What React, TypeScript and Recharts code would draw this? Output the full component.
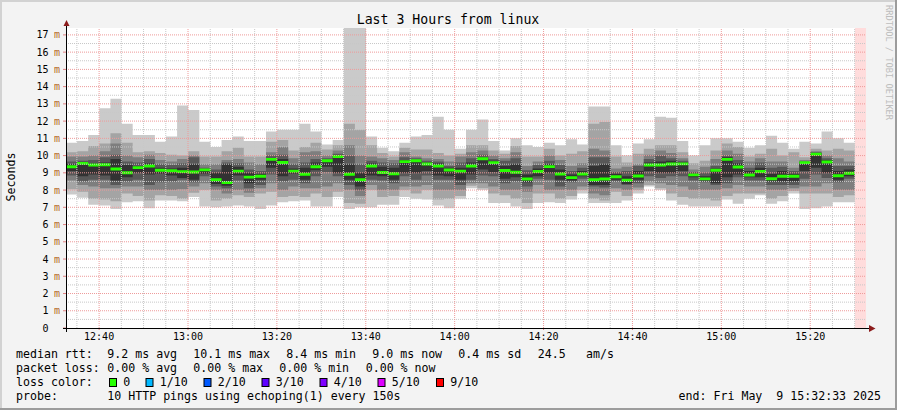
import React from "react";
import {
  ComposedChart, Area, XAxis, YAxis, CartesianGrid, ReferenceLine, ReferenceArea,
} from "recharts";

// time in minutes after midnight; one rrd step = 150 s
const STEP_START = 752.55; // 12:32:33
const STEP = 2.5;
const VIEW_END = 932.55; // 15:32:33

// 10 pings per step, sorted (ms)
const PING_MAX = [
  10.75, 10.85, 11.2, 12.75, 13.3, 11.85, 11.2, 11.2, 10.8, 11.1,
  12.9, 12.65, 10.8, 10.5, 10.9, 11.1, 10.85, 10.85, 11.4, 11.5,
  11.5, 11.85, 11.4, 10.65, 10.9, 17.4, 17.4, 11.1, 10.45, 10.25,
  10.75, 11.1, 11.2, 12.25, 11.5, 10.4, 11.5, 12.1, 10.85, 10.3,
  11.0, 10.6, 10.5, 10.75, 10.6, 10.95, 10.65, 12.85, 12.85, 10.6,
  10.0, 10.7, 10.95, 12.25, 12.2, 10.85, 10.0, 10.6, 11.0, 11.0,
  10.8, 10.45, 10.6, 11.15, 10.75, 10.4, 10.8, 10.7, 11.4, 11.0,
  10.75,
];
const PING_9 = [
  10.2, 10.25, 10.55, 10.7, 11.3, 10.75, 10.2, 10.25, 10.15, 10.05,
  10.0, 10.25, 9.95, 9.95, 10.25, 10.45, 9.95, 9.95, 10.8, 10.9,
  10.3, 10.5, 10.75, 10.35, 10.6, 11.85, 11.5, 10.6, 10.15, 9.95,
  10.45, 10.35, 10.35, 10.15, 10.0, 10.1, 10.6, 10.6, 10.3, 10.1,
  10.55, 9.95, 9.95, 10.4, 10.0, 10.1, 10.25, 11.85, 11.95, 9.95,
  9.6, 10.1, 10.4, 10.6, 10.6, 10.2, 9.55, 9.7, 10.3, 10.7,
  10.5, 9.95, 10.1, 10.4, 10.0, 10.2, 9.9, 10.4, 10.3, 10.4,
  10.3,
];
const PING_8 = [
  9.95, 9.95, 10.0, 10.25, 10.7, 10.0, 9.9, 10.05, 9.75, 9.65,
  9.8, 10.0, 9.5, 9.5, 9.75, 9.8, 9.6, 9.5, 10.2, 10.5,
  9.85, 10.2, 10.25, 10.0, 10.3, 10.6, 10.0, 9.95, 9.85, 9.75,
  10.2, 9.95, 9.85, 9.8, 9.65, 9.95, 10.2, 10.3, 10.0, 9.85,
  10.2, 9.4, 9.65, 10.0, 9.75, 9.4, 9.55, 10.4, 10.3, 9.25,
  9.35, 9.5, 10.05, 10.3, 10.15, 9.85, 9.2, 9.35, 9.8, 10.3,
  10.1, 9.65, 9.85, 9.65, 9.65, 9.3, 9.75, 10.25, 10.0, 9.85,
  9.65,
];
const PING_7 = [
  9.65, 9.7, 9.75, 9.9, 10.05, 9.65, 9.6, 9.8, 9.5, 9.45,
  9.55, 9.9, 9.3, 9.2, 9.6, 9.55, 9.2, 9.1, 10.0, 10.05,
  9.5, 9.6, 9.8, 9.85, 10.1, 10.0, 9.5, 9.7, 9.6, 9.55,
  9.9, 9.85, 9.7, 9.65, 9.4, 9.6, 9.85, 10.05, 9.8, 9.7,
  9.85, 9.15, 9.45, 9.7, 9.45, 9.1, 9.3, 9.9, 9.9, 9.05,
  9.1, 9.4, 9.8, 10.0, 9.85, 9.7, 9.05, 9.0, 9.4, 10.0,
  9.75, 9.3, 9.6, 9.3, 9.35, 9.1, 9.65, 10.2, 9.85, 9.4,
  9.4,
];
const PING_6 = [
  9.5, 9.6, 9.55, 9.6, 9.8, 9.45, 9.4, 9.55, 9.3, 9.25,
  9.3, 9.5, 9.2, 9.0, 9.5, 9.35, 9.0, 8.95, 9.85, 9.8,
  9.25, 9.3, 9.6, 9.75, 10.0, 9.5, 9.0, 9.55, 9.35, 9.3,
  9.75, 9.75, 9.6, 9.55, 9.3, 9.3, 9.6, 9.9, 9.7, 9.4,
  9.5, 8.9, 9.25, 9.5, 9.2, 8.9, 9.1, 9.4, 9.5, 8.95,
  8.8, 9.1, 9.6, 9.65, 9.7, 9.6, 8.95, 8.8, 9.25, 9.9,
  9.55, 9.1, 9.3, 8.95, 9.1, 8.95, 9.6, 10.15, 9.75, 9.1,
  9.2,
];
const MEDIAN = [
  9.35, 9.55, 9.45, 9.47, 9.22, 9.0, 9.3, 9.4, 9.15, 9.12,
  9.07, 9.05, 9.17, 8.6, 8.43, 9.1, 8.75, 8.8, 9.78, 9.6,
  9.1, 8.92, 9.35, 9.7, 9.95, 8.92, 8.6, 9.4, 9.02, 8.95,
  9.65, 9.7, 9.51, 9.4, 9.16, 9.1, 9.4, 9.82, 9.59, 9.13,
  9.03, 8.64, 9.08, 9.36, 8.93, 8.72, 8.93, 8.6, 8.64, 8.77,
  8.57, 8.82, 9.45, 9.45, 9.51, 9.52, 8.88, 8.65, 9.15, 9.78,
  9.34, 8.87, 9.08, 8.66, 8.8, 8.8, 9.59, 10.08, 9.63, 8.83,
  8.98,
];
const PING_5 = [
  9.1, 8.8, 8.9, 8.85, 8.55, 8.75, 9.0, 8.9, 8.95, 8.85,
  8.7, 8.6, 8.95, 8.35, 8.25, 8.85, 8.4, 8.6, 9.3, 8.8,
  8.95, 8.6, 9.15, 9.35, 9.0, 8.6, 8.2, 8.85, 8.8, 8.6,
  9.0, 9.0, 9.1, 8.85, 8.8, 8.6, 8.9, 9.2, 9.05, 8.65,
  8.75, 8.45, 8.8, 9.0, 8.6, 8.55, 8.8, 8.3, 8.3, 8.6,
  8.35, 8.6, 9.1, 9.0, 9.0, 9.1, 8.75, 8.55, 8.4, 8.75,
  8.9, 8.75, 8.75, 8.5, 8.5, 8.5, 9.1, 9.3, 9.0, 8.6,
  8.8,
];
const PING_4 = [
  8.85, 8.5, 8.6, 8.6, 8.3, 8.5, 8.6, 8.3, 8.45, 8.5,
  8.6, 8.45, 8.8, 8.2, 8.1, 8.55, 8.1, 8.3, 8.9, 8.5,
  8.6, 8.4, 8.8, 9.05, 8.8, 8.3, 8.0, 8.6, 8.55, 8.4,
  8.8, 8.6, 8.85, 8.6, 8.6, 8.3, 8.6, 8.85, 8.8, 8.4,
  8.5, 8.2, 8.65, 8.6, 8.2, 8.45, 8.65, 8.2, 8.15, 8.5,
  8.3, 8.4, 8.8, 8.7, 8.8, 8.8, 8.55, 8.45, 8.3, 8.4,
  8.75, 8.55, 8.55, 8.3, 8.3, 8.3, 8.65, 8.9, 8.7, 8.45,
  8.65,
];
const PING_3 = [
  8.55, 8.3, 8.2, 8.1, 8.1, 8.2, 8.2, 8.0, 8.0, 8.0,
  8.05, 8.2, 8.4, 8.0, 7.8, 8.0, 7.85, 8.1, 8.4, 8.0,
  8.2, 8.1, 8.1, 8.2, 8.4, 8.0, 7.65, 8.3, 8.0, 8.0,
  8.2, 8.2, 8.3, 8.0, 8.0, 8.0, 8.4, 8.4, 8.2, 8.0,
  8.0, 7.9, 8.3, 8.0, 8.0, 8.0, 8.2, 7.8, 7.7, 8.1,
  8.0, 8.15, 8.5, 8.4, 8.3, 8.2, 8.0, 8.0, 8.0, 8.1,
  8.3, 8.2, 8.2, 8.0, 8.0, 8.1, 8.2, 8.2, 8.4, 8.0,
  8.0,
];
const PING_2 = [
  8.05, 7.9, 7.5, 7.45, 7.35, 7.8, 7.65, 7.4, 7.7, 7.65,
  7.5, 7.85, 8.0, 7.4, 7.5, 7.7, 7.6, 7.8, 7.9, 7.6,
  7.65, 7.6, 7.8, 7.6, 7.9, 7.25, 7.2, 8.0, 7.6, 7.65,
  8.0, 7.8, 8.0, 7.45, 7.5, 7.65, 8.25, 8.1, 7.8, 7.7,
  7.5, 7.25, 7.8, 7.8, 7.5, 7.65, 8.0, 7.5, 7.4, 7.9,
  7.65, 8.0, 8.3, 8.1, 7.8, 7.6, 7.5, 7.5, 7.4, 7.65,
  7.8, 7.8, 7.8, 7.5, 7.65, 7.95, 7.8, 7.8, 7.8, 7.6,
  7.7,
];
const PING_MIN = [
  7.75, 7.55, 7.15, 7.1, 6.9, 7.3, 7.35, 6.95, 7.4, 7.4,
  7.35, 7.6, 7.05, 7.0, 7.05, 7.1, 7.05, 6.9, 7.1, 7.3,
  7.35, 7.4, 7.05, 7.05, 7.6, 6.9, 7.0, 7.0, 7.15, 7.15,
  7.6, 7.5, 7.45, 7.1, 6.95, 7.5, 8.1, 8.0, 7.25, 7.25,
  7.05, 6.9, 7.25, 7.3, 7.25, 7.45, 7.8, 7.25, 7.25, 7.25,
  7.4, 7.8, 8.2, 8.0, 7.4, 7.15, 7.05, 7.05, 7.05, 7.45,
  7.2, 7.5, 7.7, 7.2, 7.35, 7.8, 6.9, 6.95, 7.05, 7.3,
  7.3,
];

const Y_TICKS = [0, 1, 2, 3, 4, 5, 6, 7, 8, 9, 10, 11, 12, 13, 14, 15, 16, 17];
const X_TICKS = [760, 780, 800, 820, 840, 860, 880, 900, 920];
const Y_MINOR = Y_TICKS.map((v) => v + 0.5);
const X_MINOR = [755, 765, 770, 775, 785, 790, 795, 805, 810, 815, 825, 830, 835,
  845, 850, 855, 865, 870, 875, 885, 890, 895, 905, 910, 915, 925, 930];

// outer pair first, darkest (p5/p6) last
const SMOKE = [
  { lo: PING_MIN, hi: PING_MAX, color: "#cacaca" },
  { lo: PING_2, hi: PING_9, color: "#a4a4a4" },
  { lo: PING_3, hi: PING_8, color: "#7e7e7e" },
  { lo: PING_4, hi: PING_7, color: "#585858" },
  { lo: PING_5, hi: PING_6, color: "#323232" },
];
const MEDIAN_WIDTH = 0.17;

const LOSS_COLORS = [
  { label: "0", color: "#26ff00", x: 109 },
  { label: "1/10", color: "#00b8ff", x: 145.5 },
  { label: "2/10", color: "#0059ff", x: 203.5 },
  { label: "3/10", color: "#5e00ff", x: 261.5 },
  { label: "4/10", color: "#7e00ff", x: 319.5 },
  { label: "5/10", color: "#dd00ff", x: 377.5 },
  { label: "9/10", color: "#ff0000", x: 436 },
];

const n = MEDIAN.length;
const rows = Array.from({ length: n + 1 }, (_, i) => {
  const k = Math.min(i, n - 1);
  const row: Record<string, number> = { t: STEP_START + i * STEP };
  SMOKE.forEach((s, j) => {
    row[`b${j}`] = s.lo[k];
    row[`h${j}`] = s.hi[k] - s.lo[k];
  });
  row.mb = MEDIAN[k] - MEDIAN_WIDTH / 2;
  row.mh = MEDIAN_WIDTH;
  return row;
});

const MONO = "DejaVu Sans Mono";
const fmtTime = (t: number) => `${Math.floor(t / 60)}:${String(Math.round(t % 60)).padStart(2, "0")}`;

const YTick = (props: any) => {
  const { x, y, payload } = props;
  return (
    <g fontFamily={MONO} fontSize={10}>
      <text x={x - 14.5} y={y} dy="0.35em" textAnchor="end" fill="#000">{payload.value}</text>
      {payload.value !== 0 && (
        <text x={x - 9} y={y} dy="0.35em" fill="#b4681c">m</text>
      )}
    </g>
  );
};

export default function App() {
  return (
    <div style={{ position: "absolute", left: 0, top: 0, width: 897, height: 410, background: "#f3f3f3" }}>
      <ComposedChart width={897} height={410} data={rows}
        margin={{ top: 28, right: 31, bottom: 0, left: 6 }}>
        <CartesianGrid horizontal={false} vertical={false} fill="#ffffff" />
        <XAxis dataKey="t" type="number" domain={[STEP_START, VIEW_END]} allowDataOverflow
          ticks={X_TICKS} tickFormatter={fmtTime} height={82} axisLine={false}
          tickSize={2} tickMargin={3} tickLine={{ stroke: "#e08080" }}
          tick={{ fill: "#000", fontSize: 10, fontFamily: MONO }} interval={0} />
        <YAxis type="number" domain={[0, 17.4]} allowDataOverflow ticks={Y_TICKS} width={60}
          axisLine={false} tickSize={3} tickMargin={0} tickLine={{ stroke: "#e08080" }}
          tick={<YTick />} interval={0} />

        {SMOKE.flatMap((s, j) => [
          <Area key={`b${j}`} dataKey={`b${j}`} stackId={`s${j}`} type="stepAfter"
            stroke="none" fill="none" dot={false} activeDot={false} isAnimationActive={false} />,
          <Area key={`h${j}`} dataKey={`h${j}`} stackId={`s${j}`} type="stepAfter"
            stroke="none" fill={s.color} fillOpacity={1} dot={false} activeDot={false}
            isAnimationActive={false} />,
        ])}
        <Area dataKey="mb" stackId="med" type="stepAfter" stroke="none" fill="none"
          dot={false} activeDot={false} isAnimationActive={false} />
        <Area dataKey="mh" stackId="med" type="stepAfter" stroke="none" fill="#26ff00"
          fillOpacity={1} dot={false} activeDot={false} isAnimationActive={false} />

        <ReferenceArea x1={STEP_START + n * STEP} x2={VIEW_END} fill="#ffdcdc" fillOpacity={1} stroke="none" />

        {Y_MINOR.map((v) => (
          <ReferenceLine key={`ym${v}`} y={v} stroke="#c8c8c8" strokeDasharray="1 1" />
        ))}
        {X_MINOR.map((v) => (
          <ReferenceLine key={`xm${v}`} x={v} stroke="#c8c8c8" strokeDasharray="1 1" />
        ))}
        {Y_TICKS.slice(1).map((v) => (
          <ReferenceLine key={`yM${v}`} y={v} stroke="#ee9a9a" strokeDasharray="1 1" />
        ))}
        {X_TICKS.map((v) => (
          <ReferenceLine key={`xM${v}`} x={v} stroke="#ee9a9a" strokeDasharray="1 1" />
        ))}
      </ComposedChart>

      <svg width={897} height={410} style={{ position: "absolute", left: 0, top: 0, pointerEvents: "none" }}
        fontFamily={MONO}>
        {/* frame */}
        <path d="M0 1 H897 M1 0 V410" stroke="#d2d2d2" strokeWidth={2} />
        <path d="M0 409 H897 M896 0 V410" stroke="#9c9c9c" strokeWidth={2} />

        <text x={448} y={24} textAnchor="middle" fontSize={13.2} fill="#000">Last 3 Hours from linux</text>
        <text transform="translate(10.5,177) rotate(-90)" textAnchor="middle" dominantBaseline="central"
          fontSize={11.6} fill="#000">Seconds</text>
        <text transform="translate(888.5,5) rotate(90)" dominantBaseline="central"
          fontSize={8.7} fill="#bdbdbd">RRDTOOL / TOBI OETIKER</text>

        {/* axes */}
        <line x1={66.5} y1={24} x2={66.5} y2={332} stroke="#000" />
        <line x1={63} y1={328.5} x2={870} y2={328.5} stroke="#000" />
        <polygon points="63.5,26 69.5,26 66.5,20" fill="#8c1c1c" />
        <polygon points="869,325 869,332 875.5,328.5" fill="#8c1c1c" />

        {/* legend */}
        <g fontSize={11.6} fill="#000">
          <text x={16} y={357.5}>median rtt:</text>
          <text x={107.3} y={357.5}>9.2 ms avg</text>
          <text x={193.3} y={357.5}>10.1 ms max</text>
          <text x={286.3} y={357.5}>8.4 ms min</text>
          <text x={372.3} y={357.5}>9.0 ms now</text>
          <text x={458.3} y={357.5}>0.4 ms sd</text>
          <text x={537.7} y={357.5}>24.5</text>
          <text x={586} y={357.5}>am/s</text>

          <text x={16} y={371.5}>packet loss:</text>
          <text x={107.3} y={371.5}>0.00 % avg</text>
          <text x={193.3} y={371.5}>0.00 % max</text>
          <text x={279.3} y={371.5}>0.00 % min</text>
          <text x={365.7} y={371.5}>0.00 % now</text>

          <text x={16} y={385.5}>loss color:</text>
          {LOSS_COLORS.map((c) => (
            <g key={c.label}>
              <rect x={c.x + 0.5} y={378.5} width={7} height={8} fill={c.color} stroke="#000" />
              <text x={c.x + 14.3} y={385.5}>{c.label}</text>
            </g>
          ))}

          <text x={16} y={399.5}>probe:</text>
          <text x={107.3} y={399.5}>10 HTTP pings using echoping(1) every 150s</text>
          <text x={881} y={399.5} textAnchor="end" xmlSpace="preserve">{"end: Fri May\u00a0\u00a09 15:32:33 2025"}</text>
        </g>
      </svg>
    </div>
  );
}
